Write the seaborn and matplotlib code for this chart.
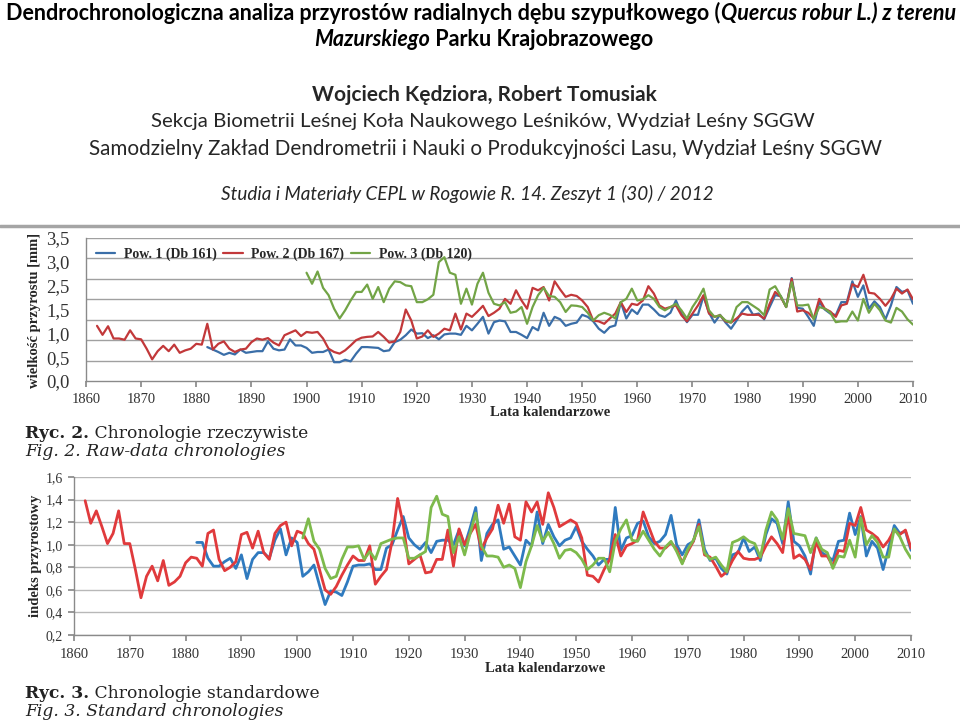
"""
Dendrochronologia debu szypulkowego - odtworzenie slajdu z dwoma wykresami chronologii.
"""

import matplotlib
matplotlib.use('Agg')
import matplotlib.pyplot as plt
from matplotlib.lines import Line2D
import seaborn as sns
import pandas as pd
import numpy as np

SERIES = ["Pow. 1 (Db 161)", "Pow. 2 (Db 167)", "Pow. 3 (Db 120)"]

# Ryc. 2 - chronologie rzeczywiste [mm]
raw_pow1_start = 1882
raw_pow1 = [0.83, 0.77, 0.71, 0.64, 0.69, 0.65, 0.77, 0.69, 0.71, 0.73,
            0.73, 0.97, 0.79, 0.75, 0.77, 1.02, 0.87, 0.87, 0.81, 0.69,
            0.71, 0.71, 0.77, 0.46, 0.46, 0.52, 0.48, 0.67, 0.83, 0.83,
            0.82, 0.81, 0.73, 0.75, 0.95, 1.01, 1.12, 1.26, 1.16, 1.17,
            1.05, 1.12, 1.02, 1.14, 1.16, 1.16, 1.13, 1.35, 1.24, 1.40,
            1.57, 1.16, 1.44, 1.48, 1.46, 1.20, 1.20, 1.13, 1.05, 1.32,
            1.24, 1.67, 1.35, 1.57, 1.51, 1.35, 1.40, 1.43, 1.62, 1.57,
            1.46, 1.28, 1.18, 1.32, 1.36, 1.93, 1.53, 1.75, 1.64, 1.87,
            1.87, 1.75, 1.61, 1.57, 1.67, 1.97, 1.65, 1.44, 1.62, 1.62,
            2.08, 1.67, 1.43, 1.62, 1.43, 1.28, 1.48, 1.70, 1.84, 1.62,
            1.65, 1.51, 1.81, 2.10, 2.08, 1.81, 2.52, 1.79, 1.77, 1.57,
            1.35, 1.93, 1.75, 1.65, 1.61, 1.93, 1.93, 2.44, 2.06, 2.34,
            1.77, 1.95, 1.81, 1.51, 1.85, 2.30, 2.18, 2.22, 1.89]
raw_pow2_start = 1862
raw_pow2 = [1.35, 1.13, 1.34, 1.04, 1.04, 1.01, 1.24, 1.04, 1.02, 0.79,
            0.53, 0.73, 0.86, 0.73, 0.89, 0.69, 0.75, 0.79, 0.91, 0.89,
            1.40, 0.77, 0.91, 0.97, 0.79, 0.71, 0.77, 0.79, 0.95, 1.04,
            1.01, 1.05, 0.94, 0.87, 1.12, 1.18, 1.24, 1.10, 1.20, 1.18,
            1.20, 1.04, 0.79, 0.71, 0.67, 0.75, 0.87, 1.00, 1.06, 1.08,
            1.09, 1.20, 1.08, 0.94, 0.97, 1.20, 1.75, 1.48, 1.04, 1.09,
            1.24, 1.08, 1.16, 1.28, 1.24, 1.65, 1.26, 1.65, 1.57, 1.70,
            1.84, 1.59, 1.67, 1.77, 2.01, 1.89, 2.22, 1.97, 1.77, 2.28,
            2.22, 2.30, 1.97, 2.44, 2.24, 2.06, 2.11, 2.08, 1.97, 1.81,
            1.48, 1.46, 1.40, 1.53, 1.65, 1.93, 1.69, 1.89, 1.86, 1.97,
            2.32, 2.14, 1.85, 1.77, 1.81, 1.85, 1.61, 1.46, 1.65, 1.85,
            2.10, 1.65, 1.57, 1.61, 1.46, 1.43, 1.53, 1.65, 1.62, 1.62,
            1.62, 1.53, 1.89, 2.18, 2.06, 1.81, 2.50, 1.70, 1.73, 1.67,
            1.53, 2.01, 1.77, 1.70, 1.57, 1.85, 1.89, 2.37, 2.30, 2.60,
            2.16, 2.14, 2.01, 1.84, 2.01, 2.26, 2.14, 2.24, 2.00]
raw_pow3_start = 1900
raw_pow3 = [2.65, 2.38, 2.68, 2.28, 2.10, 1.77, 1.53, 1.73, 1.97, 2.18,
            2.18, 2.36, 2.01, 2.30, 1.93, 2.26, 2.44, 2.42, 2.34, 2.32,
            1.93, 1.93, 2.00, 2.11, 2.91, 3.03, 2.65, 2.60, 1.89, 2.26,
            1.87, 2.38, 2.65, 2.16, 1.89, 1.85, 1.93, 1.67, 1.70, 1.81,
            1.40, 1.81, 2.10, 2.28, 2.08, 2.06, 1.93, 1.69, 1.85, 1.84,
            1.81, 1.67, 1.48, 1.61, 1.67, 1.62, 1.53, 1.93, 2.01, 2.26,
            1.97, 2.00, 2.10, 2.01, 1.81, 1.73, 1.81, 1.89, 1.73, 1.53,
            1.81, 2.01, 2.26, 1.73, 1.57, 1.61, 1.48, 1.43, 1.81, 1.93,
            1.93, 1.84, 1.75, 1.61, 2.24, 2.32, 2.08, 1.81, 2.42, 1.85,
            1.85, 1.87, 1.51, 1.81, 1.77, 1.67, 1.44, 1.46, 1.46, 1.70,
            1.48, 2.01, 1.67, 1.89, 1.73, 1.48, 1.43, 1.79, 1.70, 1.51, 1.38]

# Ryc. 3 - chronologie standardowe (indeks)
std_pow1_start = 1882
std_pow1 = [1.02, 1.02, 0.88, 0.81, 0.81, 0.85, 0.88, 0.79, 0.91, 0.70,
            0.87, 0.93, 0.93, 0.88, 1.04, 1.14, 0.91, 1.06, 1.02, 0.72,
            0.76, 0.82, 0.64, 0.47, 0.59, 0.58, 0.55, 0.67, 0.81, 0.82,
            0.82, 0.83, 0.78, 0.78, 0.97, 1.00, 1.13, 1.25, 1.06, 1.00,
            0.96, 1.02, 0.93, 1.03, 1.04, 1.04, 1.00, 1.13, 0.99, 1.15,
            1.33, 0.86, 1.10, 1.18, 1.22, 0.96, 0.98, 0.90, 0.82, 1.04,
            0.99, 1.29, 1.01, 1.18, 1.07, 0.99, 1.04, 1.06, 1.16, 1.03,
            0.96, 0.90, 0.82, 0.87, 0.87, 1.33, 0.95, 1.06, 1.08, 1.19,
            1.21, 1.07, 1.01, 1.03, 1.09, 1.26, 1.00, 0.91, 1.00, 1.03,
            1.22, 0.96, 0.86, 0.88, 0.79, 0.74, 0.91, 0.93, 1.06, 0.94,
            0.98, 0.86, 1.09, 1.23, 1.19, 1.01, 1.38, 1.03, 0.99, 0.90,
            0.74, 1.06, 0.93, 0.90, 0.86, 1.03, 1.04, 1.28, 1.09, 1.25,
            0.90, 1.03, 0.97, 0.78, 0.97, 1.17, 1.10, 1.12, 0.95]
std_pow2_start = 1862
std_pow2 = [1.39, 1.19, 1.30, 1.16, 1.01, 1.10, 1.30, 1.01, 1.01, 0.78,
            0.53, 0.72, 0.81, 0.68, 0.86, 0.64, 0.67, 0.72, 0.84, 0.89,
            0.88, 0.81, 1.10, 1.13, 0.87, 0.77, 0.80, 0.85, 1.09, 1.11,
            0.97, 1.12, 0.93, 0.87, 1.10, 1.17, 1.20, 0.99, 1.12, 1.10,
            1.01, 0.96, 0.78, 0.60, 0.56, 0.63, 0.73, 0.82, 0.90, 0.86,
            0.86, 0.99, 0.65, 0.72, 0.78, 1.03, 1.41, 1.18, 0.83, 0.87,
            0.91, 0.75, 0.76, 0.87, 0.87, 1.13, 0.81, 1.14, 1.00, 1.10,
            1.18, 0.96, 1.06, 1.14, 1.35, 1.19, 1.36, 1.07, 1.04, 1.38,
            1.29, 1.38, 1.18, 1.46, 1.33, 1.16, 1.19, 1.22, 1.19, 1.06,
            0.73, 0.72, 0.67, 0.78, 0.87, 1.09, 0.90, 0.99, 1.01, 1.04,
            1.29, 1.16, 1.03, 0.97, 0.97, 1.02, 0.96, 0.84, 0.94, 1.03,
            1.18, 0.91, 0.89, 0.81, 0.72, 0.76, 0.86, 0.94, 0.88, 0.87,
            0.87, 0.89, 0.99, 1.07, 1.01, 0.93, 1.28, 0.88, 0.91, 0.87,
            0.78, 1.03, 0.90, 0.90, 0.81, 0.95, 0.94, 1.19, 1.17, 1.33,
            1.13, 1.10, 1.06, 0.98, 1.04, 1.13, 1.09, 1.13, 0.97]
std_pow3_start = 1901
std_pow3 = [1.06, 1.23, 1.03, 0.96, 0.79, 0.70, 0.72, 0.87, 0.98, 0.98,
            0.99, 0.87, 0.94, 0.87, 1.01, 1.03, 1.05, 1.06, 1.06, 0.88,
            0.88, 0.91, 0.94, 1.33, 1.43, 1.27, 1.25, 0.93, 1.07, 0.91,
            1.10, 1.28, 0.99, 0.90, 0.90, 0.89, 0.80, 0.82, 0.79, 0.62,
            0.85, 0.99, 1.17, 1.03, 1.11, 1.01, 0.88, 0.95, 0.96, 0.93,
            0.87, 0.78, 0.82, 0.88, 0.88, 0.76, 1.03, 1.14, 1.22, 1.04,
            1.03, 1.12, 1.04, 0.96, 0.90, 0.98, 1.03, 0.94, 0.83, 0.96,
            1.04, 1.16, 0.93, 0.87, 0.89, 0.82, 0.76, 1.02, 1.04, 1.07,
            1.03, 1.01, 0.89, 1.13, 1.29, 1.22, 1.05, 1.32, 1.10, 1.09,
            1.08, 0.93, 1.06, 0.96, 0.93, 0.79, 0.90, 0.89, 1.04, 0.89,
            1.24, 1.00, 1.08, 1.02, 0.89, 0.89, 1.14, 1.07, 0.96, 0.88]

x_ticks = list(range(1860, 2011, 10))
raw_grid = [0.5, 1.0, 1.5, 2.0, 2.5, 3.0, 3.5]
raw_ytick_labels = ["0,0", "0,5", "1,0", "1,5", "2,5", "3,0", "3,5"]   # as printed in the source (no 2,0)
std_yticks = [0.2, 0.4, 0.6, 0.8, 1.0, 1.2, 1.4, 1.6]

raw_colors = ["#3a6ea8", "#c2383a", "#72a446"]
std_colors = ["#2f7abf", "#e03a3c", "#7dba4c"]

W, H = 960, 727


def fx(x):
    return x / W


def fy(y):
    return 1 - y / H


def long_df(parts):
    frames = []
    for name, start, vals in parts:
        frames.append(pd.DataFrame({"Rok": range(start, start + len(vals)),
                                    "Wartosc": vals, "Seria": name}))
    return pd.concat(frames, ignore_index=True)


raw_df = long_df([(SERIES[0], raw_pow1_start, raw_pow1),
                  (SERIES[1], raw_pow2_start, raw_pow2),
                  (SERIES[2], raw_pow3_start, raw_pow3)])
std_df = long_df([(SERIES[0], std_pow1_start, std_pow1),
                  (SERIES[1], std_pow2_start, std_pow2),
                  (SERIES[2], std_pow3_start, std_pow3)])

sns.set_theme(style="white")
plt.rcParams["font.family"] = ["Liberation Serif", "DejaVu Serif"]

fig = plt.figure(figsize=(9.6, 7.27), dpi=100)
renderer = fig.canvas.get_renderer()


def rich_text(x, y, parts, ha="left", family=None, size=12, color="black"):
    """Draws a line made of differently styled pieces, starting (or centred) at x."""
    texts = []
    cur = x
    for s, weight, style in parts:
        t = fig.text(fx(cur), fy(y), s, va="center", ha="left", fontsize=size,
                     fontweight=weight, fontstyle=style, color=color,
                     family=family)
        cur += t.get_window_extent(renderer=renderer).width
        texts.append(t)
    if ha == "center":
        shift = (cur - x) / 2
        for t in texts:
            t.set_x(t.get_position()[0] - shift / W)


# naglowek slajdu
head_font = ["Lato", "DejaVu Sans"]
rich_text(481, 13, [("Dendrochronologiczna analiza przyrostów radialnych dębu szypułkowego (", "bold", "normal"),
                    ("Quercus robur L.) z terenu", "bold", "italic")],
          ha="center", family=head_font, size=15.5)
rich_text(484, 40, [("Mazurskiego", "bold", "italic"),
                    (" Parku Krajobrazowego", "bold", "normal")],
          ha="center", family=head_font, size=15.5)
fig.text(fx(484), fy(95), "Wojciech Kędziora, Robert Tomusiak", ha="center", va="center",
         fontsize=15, fontweight="bold", family=head_font)
fig.text(fx(483), fy(122), "Sekcja Biometrii Leśnej Koła Naukowego Leśników, Wydział Leśny SGGW",
         ha="center", va="center", fontsize=14.7, family=head_font)
fig.text(fx(485), fy(149), "Samodzielny Zakład Dendrometrii i Nauki o Produkcyjności Lasu, Wydział Leśny SGGW",
         ha="center", va="center", fontsize=14.9, family=head_font)
fig.text(fx(467), fy(194), "Studia i Materiały CEPL w Rogowie R. 14. Zeszyt 1 (30) / 2012",
         ha="center", va="center", fontsize=13.6, fontstyle="italic", family=head_font)

fig.add_artist(Line2D([0, 1], [fy(226), fy(226)], color="#a5a5a5", lw=2.5))


def style_axes(ax):
    ax.set_xlim(1860, 2010)
    ax.set_xticks(x_ticks)
    ax.set_xlabel("")
    ax.set_ylabel("")
    for side in ["top", "right"]:
        ax.spines[side].set_visible(False)
    for side in ["left", "bottom"]:
        ax.spines[side].set_color("#8a8a8a")
        ax.spines[side].set_linewidth(1)
    ax.set_axisbelow(True)
    ax.tick_params(axis="x", which="major", bottom=True, length=4, color="#8a8a8a",
                   labelsize=10.5, labelcolor="#333333", pad=5)
    ax.set_facecolor("white")


# Ryc. 2
ax1 = fig.add_axes([fx(86), fy(381), (913 - 86) / W, (381 - 238) / H])
sns.lineplot(data=raw_df, x="Rok", y="Wartosc", hue="Seria", palette=raw_colors,
             linewidth=1.6, ax=ax1)
style_axes(ax1)
ax1.set_ylim(0, 3.5)
ax1.hlines(raw_grid, 1860, 2010, colors="#a0a0a0", linewidth=1, zorder=0)
# the printed labels are spread evenly over the axis, not on the grid lines
ax1.set_yticks(np.linspace(0, 3.5, len(raw_ytick_labels)), raw_ytick_labels)
ax1.tick_params(axis="y", which="major", left=False, labelsize=13.5,
                labelcolor="#333333", pad=6)
handles, labels = ax1.get_legend_handles_labels()
ax1.legend(handles, labels, loc="upper left", bbox_to_anchor=(0.0, 1.0), ncol=3,
           frameon=False, prop={"weight": "bold", "size": 10}, handlelength=1.4,
           handletextpad=0.6, columnspacing=0.5, borderaxespad=0.3)

fig.text(fx(35), fy(310), "wielkość przyrostu [mm]", rotation=90, ha="center", va="center",
         fontsize=10.5, fontweight="bold")
fig.text(fx(550), fy(413), "Lata kalendarzowe", ha="center", va="center",
         fontsize=10.5, fontweight="bold")

cap_font = ["DejaVu Serif"]
rich_text(25, 433, [("Ryc. 2.", "bold", "normal"), (" Chronologie rzeczywiste", "normal", "normal")],
          family=cap_font, size=12.3, color="#222222")
rich_text(25, 451, [("Fig. 2. Raw-data chronologies", "normal", "italic")],
          family=cap_font, size=12.3, color="#222222")

# Ryc. 3
ax2 = fig.add_axes([fx(74), fy(635), (911 - 74) / W, (635 - 477) / H])
sns.lineplot(data=std_df, x="Rok", y="Wartosc", hue="Seria", palette=std_colors,
             linewidth=2.0, ax=ax2, legend=False)
style_axes(ax2)
ax2.grid(axis="y", which="major", color="#b8b8b8", lw=1)
ax2.set_ylim(0.2, 1.6)
ax2.set_yticks(std_yticks, [f"{v:.1f}".replace(".", ",") for v in std_yticks])
ax2.tick_params(axis="y", which="major", left=True, length=4, color="#8a8a8a",
                labelsize=10, labelcolor="#333333", pad=4)

fig.text(fx(35), fy(556), "indeks przyrostowy", rotation=90, ha="center", va="center",
         fontsize=10.5, fontweight="bold")
fig.text(fx(545), fy(668), "Lata kalendarzowe", ha="center", va="center",
         fontsize=10.5, fontweight="bold")

rich_text(25, 693, [("Ryc. 3.", "bold", "normal"), (" Chronologie standardowe", "normal", "normal")],
          family=cap_font, size=12.3, color="#222222")
rich_text(25, 712, [("Fig. 3. Standard chronologies", "normal", "italic")],
          family=cap_font, size=12.3, color="#222222")

fig.savefig("out.png", dpi=100)
